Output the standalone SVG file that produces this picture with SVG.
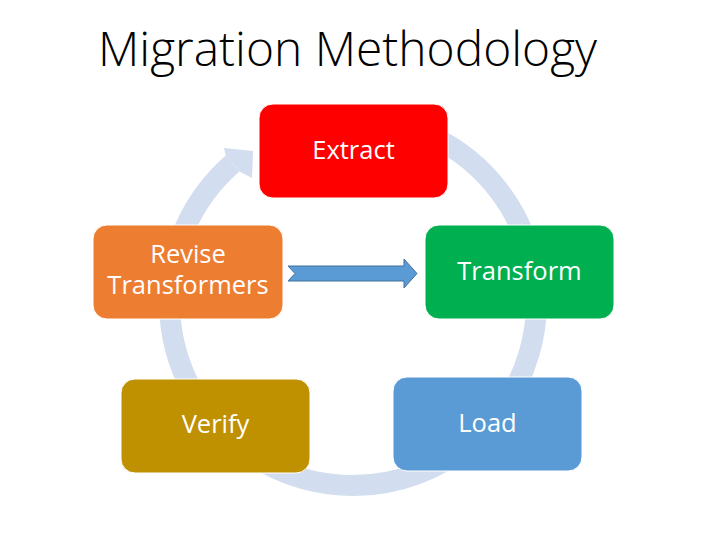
<svg xmlns="http://www.w3.org/2000/svg" width="707" height="540" viewBox="0 0 707 540">
<style>
.box{stroke:#FFFFFF;stroke-width:1}
.lbl{font-family:"Open Sans","Noto Sans","Liberation Sans",sans-serif;font-size:25.5px;fill:#FFFFFF;text-anchor:middle}
.ring{fill:none;stroke:#D2DDEF;stroke-width:21}
</style>
<rect width="707" height="540" fill="#FFFFFF"/>
<text x="347.5" y="66" font-family="'Open Sans','Noto Sans','Liberation Sans',sans-serif" font-size="48" font-weight="300" fill="#000000" text-anchor="middle" textLength="499" lengthAdjust="spacingAndGlyphs">Migration Methodology</text>
<g id="connectors">
<path class="ring" d="M 353 118.5 A 183.5 183.5 0 1 1 232.6 163.5"/>
<polygon points="224,148 253,151 252,178 239.5,171.4 225.7,155.5" fill="#D2DDEF"/>
<polygon points="288,266 404,266 404,259 417,273.5 404,288 404,281 288,281 295,273.5" fill="#5B9BD5" stroke="#41719C" stroke-width="1"/>
</g>
<g id="extract">
<rect class="box" x="259" y="104" width="189" height="94" rx="14" fill="#FF0000"/>
<text class="lbl" x="353.5" y="159">Extract</text>
</g>
<g id="transform">
<rect class="box" x="425" y="225" width="189" height="94" rx="14" fill="#00B050"/>
<text class="lbl" x="519.5" y="280">Transform</text>
</g>
<g id="load">
<rect class="box" x="393" y="377" width="189" height="94" rx="14" fill="#5B9BD5"/>
<text class="lbl" x="487.5" y="432">Load</text>
</g>
<g id="verify">
<rect class="box" x="121" y="379" width="189" height="94" rx="14" fill="#BF9000"/>
<text class="lbl" x="215.5" y="433">Verify</text>
</g>
<g id="revise">
<rect class="box" x="93" y="225" width="190" height="94" rx="14" fill="#ED7D31"/>
<text class="lbl" x="188" y="263">Revise</text>
<text class="lbl" x="188" y="294">Transformers</text>
</g>
</svg>
